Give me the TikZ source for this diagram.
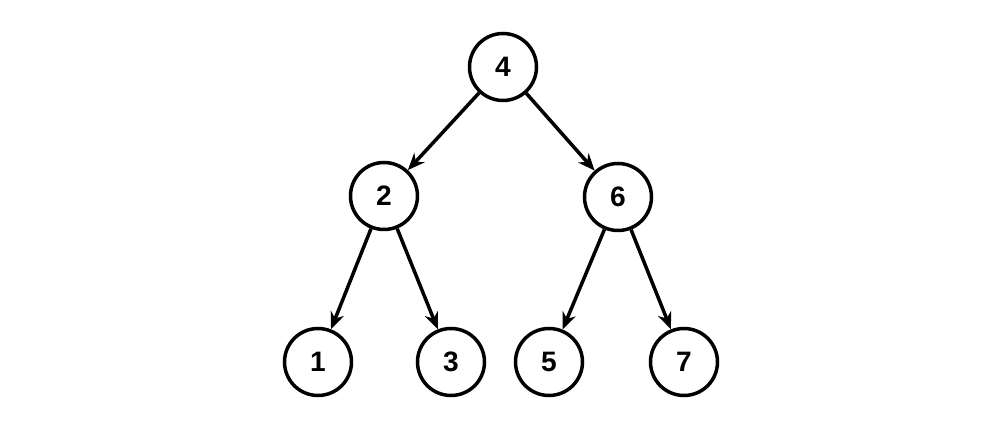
\documentclass[tikz,border=0pt]{standalone}
\usepackage{fontspec}
\setmainfont{Liberation Sans}
\usetikzlibrary{arrows.meta,positioning}

\begin{document}
\begin{tikzpicture}[on grid,
    vertex/.style={circle, draw, fill=white, line width=0.07cm, minimum size=1.34cm,
        inner sep=0pt, font=\fontsize{16}{19}\selectfont\bfseries},
    >={Stealth[length=0.34cm,width=0.28cm]}]
    \useasboundingbox[fill=white] (-10.06,1.34) rectangle (9.94,-7.24);
    \node[vertex] (n4) {4};
    \node[vertex, below left=2.58cm and 2.38cm of n4] (n2) {2};
    \node[vertex, below right=2.6cm and 2.3cm of n4] (n6) {6};
    \node[vertex, below left=3.32cm and 1.32cm of n2] (n1) {1};
    \node[vertex, below right=3.32cm and 1.34cm of n2] (n3) {3};
    \node[vertex, below left=3.3cm and 1.38cm of n6] (n5) {5};
    \node[vertex, below right=3.3cm and 1.32cm of n6] (n7) {7};
    % edges from each parent to its children
    \draw[->, line width=0.07cm] (n4) -- (n2);
    \draw[->, line width=0.07cm] (n4) -- (n6);
    \draw[->, line width=0.07cm] (n2) -- (n1);
    \draw[->, line width=0.07cm] (n2) -- (n3);
    \draw[->, line width=0.07cm] (n6) -- (n5);
    \draw[->, line width=0.07cm] (n6) -- (n7);
\end{tikzpicture}
\end{document}
